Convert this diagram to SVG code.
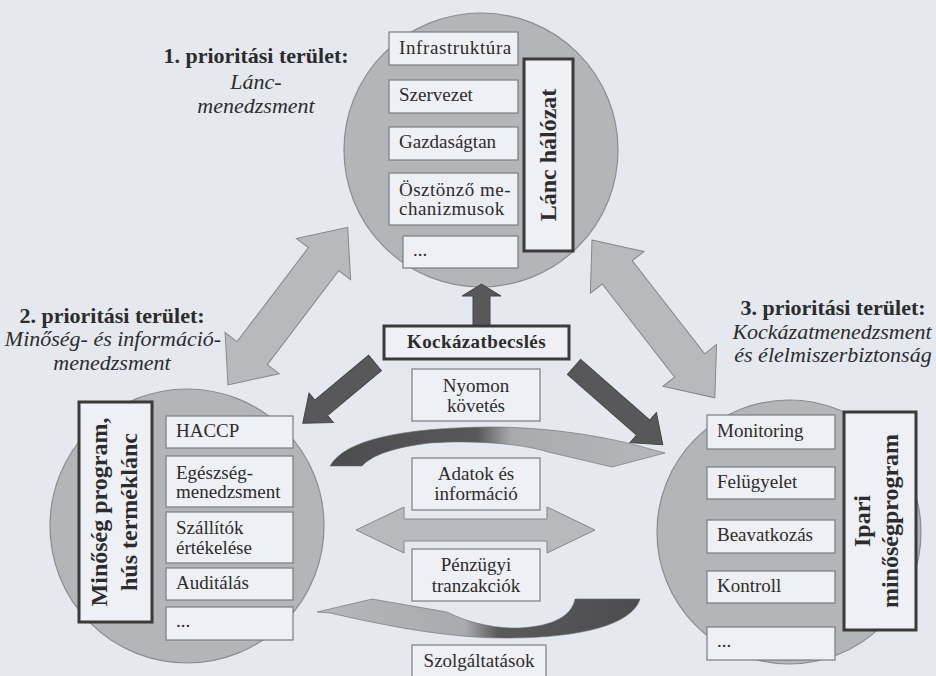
<svg xmlns="http://www.w3.org/2000/svg" width="936" height="676" viewBox="0 0 936 676">
<defs>
<style>
.circ{fill:#b4b5b9;stroke:#8b8c90;stroke-width:1.2}
.box{fill:#eff0f5;stroke:#7b7c80;stroke-width:1.2}
.tbox{fill:#eff0f5;stroke:#3a3a3a;stroke-width:3}
.t{font-size:19px;fill:#2c2c2c}
.c{text-anchor:middle}
.b{font-weight:bold}
.title{font-size:22px;font-weight:bold;fill:#2c2c2c;text-anchor:middle}
.it{font-size:22px;font-style:italic;fill:#2c2c2c;text-anchor:middle}
.rot{font-size:24px;font-weight:bold;fill:#2c2c2c;text-anchor:middle}
.big{fill:#b8b9bd;stroke:#85868a;stroke-width:1}
.dark{fill:#58585b;stroke:#454547;stroke-width:1}
</style>
<linearGradient id="gUp" x1="0" y1="0" x2="1" y2="0">
<stop offset="0" stop-color="#4c4c4e"/>
<stop offset="0.44" stop-color="#58585a"/>
<stop offset="0.54" stop-color="#a9aaae"/>
<stop offset="1" stop-color="#b6b7bb"/>
</linearGradient>
<linearGradient id="gDown" x1="0" y1="0" x2="1" y2="0">
<stop offset="0" stop-color="#b6b7bb"/>
<stop offset="0.46" stop-color="#a9aaae"/>
<stop offset="0.56" stop-color="#5a5a5c"/>
<stop offset="1" stop-color="#4c4c4e"/>
</linearGradient>
</defs>
<rect x="0" y="0" width="936" height="676" fill="#e5e8ef"/>
<g font-family="Liberation Serif, Tinos, Times New Roman, DejaVu Serif, serif">
<g id="area1">
<circle class="circ" cx="481" cy="150" r="137"/>
<text class="title" x="256" y="63">1. prioritási terület:</text>
<text class="it" x="256" y="89">Lánc-</text>
<text class="it" x="256" y="113">menedzsment</text>
</g>
<g id="area2">
<circle class="circ" cx="187" cy="526" r="137"/>
<text class="title" x="112" y="323">2. prioritási terület:</text>
<text class="it" x="113" y="346">Minőség- és információ-</text>
<text class="it" x="112" y="370">menedzsment</text>
</g>
<g id="area3">
<circle class="circ" cx="789" cy="532" r="132"/>
<text class="title" x="833" y="315">3. prioritási terület:</text>
<text class="it" x="832" y="339">Kockázatmenedzsment</text>
<text class="it" x="833" y="362">és élelmiszerbiztonság</text>
</g>

<g id="connectors">
<polygon class="big" transform="translate(228,385) rotate(-52.8)" points="0,0 40,-34 40,-19 158,-19 158,-34 198,0 158,34 158,19 40,19 40,34"/>
<polygon class="big" transform="translate(592,240) rotate(52.1)" points="0,0 41,-34 41,-19 159,-19 159,-34 200,0 159,34 159,19 41,19 41,34"/>
<polygon class="dark" transform="translate(375,363) rotate(140.2)" points="0,-10 70,-10 70,-19 94,0 70,19 70,10 0,10"/>
<polygon class="dark" transform="translate(574,367) rotate(41.2)" points="0,-10 92,-10 92,-20 118,0 92,20 92,10 0,10"/>
<polygon class="dark" points="473,326 473,296 462,296 481.5,284 501,296 490,296 490,326"/>
<polygon class="big" points="356,530 404,507 404,519 547,519 547,507 595,530 547,553 547,541 404,541 404,553"/>
<path fill="url(#gUp)" stroke="#6a6a6c" stroke-width="0.6" d="M330,466 C345,440 400,428 490,427 C560,427 620,440 650,449 L665,453 L612,467 L548,452 C520,443 470,440 430,443 C395,447 372,455 362,466 Z"/>
<path fill="url(#gDown)" stroke="#6a6a6c" stroke-width="0.6" d="M640,599 C632,625 580,638 505,638 C440,638 370,622 330,613 L317,612 L372,599 L447,612 C470,624 500,629 520,628 C555,626 572,615 575,599 Z"/>
</g>

<g id="lanc-halozat">
<rect class="tbox" x="524" y="59" width="49" height="192"/>
<text class="rot" transform="translate(556,155) rotate(-90)">Lánc hálózat</text>
</g>
<g id="infrastruktura"><rect class="box" x="389" y="32" width="129" height="33"/><text class="t" x="399" y="54" letter-spacing="0.6">Infrastruktúra</text></g>
<g id="szervezet"><rect class="box" x="389" y="80" width="129" height="33"/><text class="t" x="399" y="101">Szervezet</text></g>
<g id="gazdasagtan"><rect class="box" x="389" y="127" width="129" height="33"/><text class="t" x="399" y="148">Gazdaságtan</text></g>
<g id="osztonzo"><rect class="box" x="389" y="173" width="129" height="52"/><text class="t" x="399" y="196" letter-spacing="0.5">Ösztönző me-</text><text class="t" x="399" y="215" letter-spacing="0.5">chanizmusok</text></g>
<g id="dots1"><rect class="box" x="403" y="236" width="115" height="32"/><text class="t" x="413" y="256">...</text></g>

<g id="minoseg-program">
<rect class="tbox" x="79" y="402" width="73" height="220"/>
<text class="rot" transform="translate(107,512) rotate(-90)">Minőség program,</text>
<text class="rot" transform="translate(137,512) rotate(-90)">hús terméklánc</text>
</g>
<g id="haccp"><rect class="box" x="166" y="416" width="127" height="32"/><text class="t" x="176" y="437">HACCP</text></g>
<g id="egeszseg"><rect class="box" x="166" y="456" width="127" height="51"/><text class="t" x="176" y="479">Egészség-</text><text class="t" x="176" y="498">menedzsment</text></g>
<g id="szallitok"><rect class="box" x="166" y="512" width="127" height="51"/><text class="t" x="176" y="534">Szállítók</text><text class="t" x="176" y="554">értékelése</text></g>
<g id="auditalas"><rect class="box" x="166" y="568" width="127" height="32"/><text class="t" x="176" y="589">Auditálás</text></g>
<g id="dots2"><rect class="box" x="166" y="607" width="127" height="33"/><text class="t" x="176" y="627">...</text></g>

<g id="ipari">
<rect class="tbox" x="844" y="412" width="72" height="218"/>
<text class="rot" transform="translate(870,521) rotate(-90)">Ipari</text>
<text class="rot" transform="translate(898,521) rotate(-90)">minőségprogram</text>
</g>
<g id="monitoring"><rect class="box" x="707" y="415" width="128" height="34"/><text class="t" x="717" y="437">Monitoring</text></g>
<g id="felugyelet"><rect class="box" x="707" y="467" width="128" height="32"/><text class="t" x="717" y="488">Felügyelet</text></g>
<g id="beavatkozas"><rect class="box" x="707" y="520" width="128" height="33"/><text class="t" x="717" y="541">Beavatkozás</text></g>
<g id="kontroll"><rect class="box" x="707" y="571" width="128" height="32"/><text class="t" x="717" y="592">Kontroll</text></g>
<g id="dots3"><rect class="box" x="707" y="627" width="128" height="33"/><text class="t" x="717" y="647">...</text></g>

<g id="kockazatbecsles"><rect class="tbox" x="384" y="326" width="185" height="33"/><text class="t c b" x="476.5" y="348" letter-spacing="0.4">Kockázatbecslés</text></g>
<g id="nyomon"><rect class="box" x="412" y="369" width="128" height="52"/><text class="t c" x="476" y="392">Nyomon</text><text class="t c" x="476" y="412">követés</text></g>
<g id="adatok"><rect class="box" x="412" y="458" width="128" height="52"/><text class="t c" x="476" y="480">Adatok és</text><text class="t c" x="476" y="500">információ</text></g>
<g id="penzugyi"><rect class="box" x="412" y="549" width="128" height="52"/><text class="t c" x="476" y="571">Pénzügyi</text><text class="t c" x="476" y="592">tranzakciók</text></g>
<g id="szolgaltatasok"><rect class="box" x="412" y="645" width="134" height="34"/><text class="t c" x="479" y="667">Szolgáltatások</text></g>
</g>
</svg>
